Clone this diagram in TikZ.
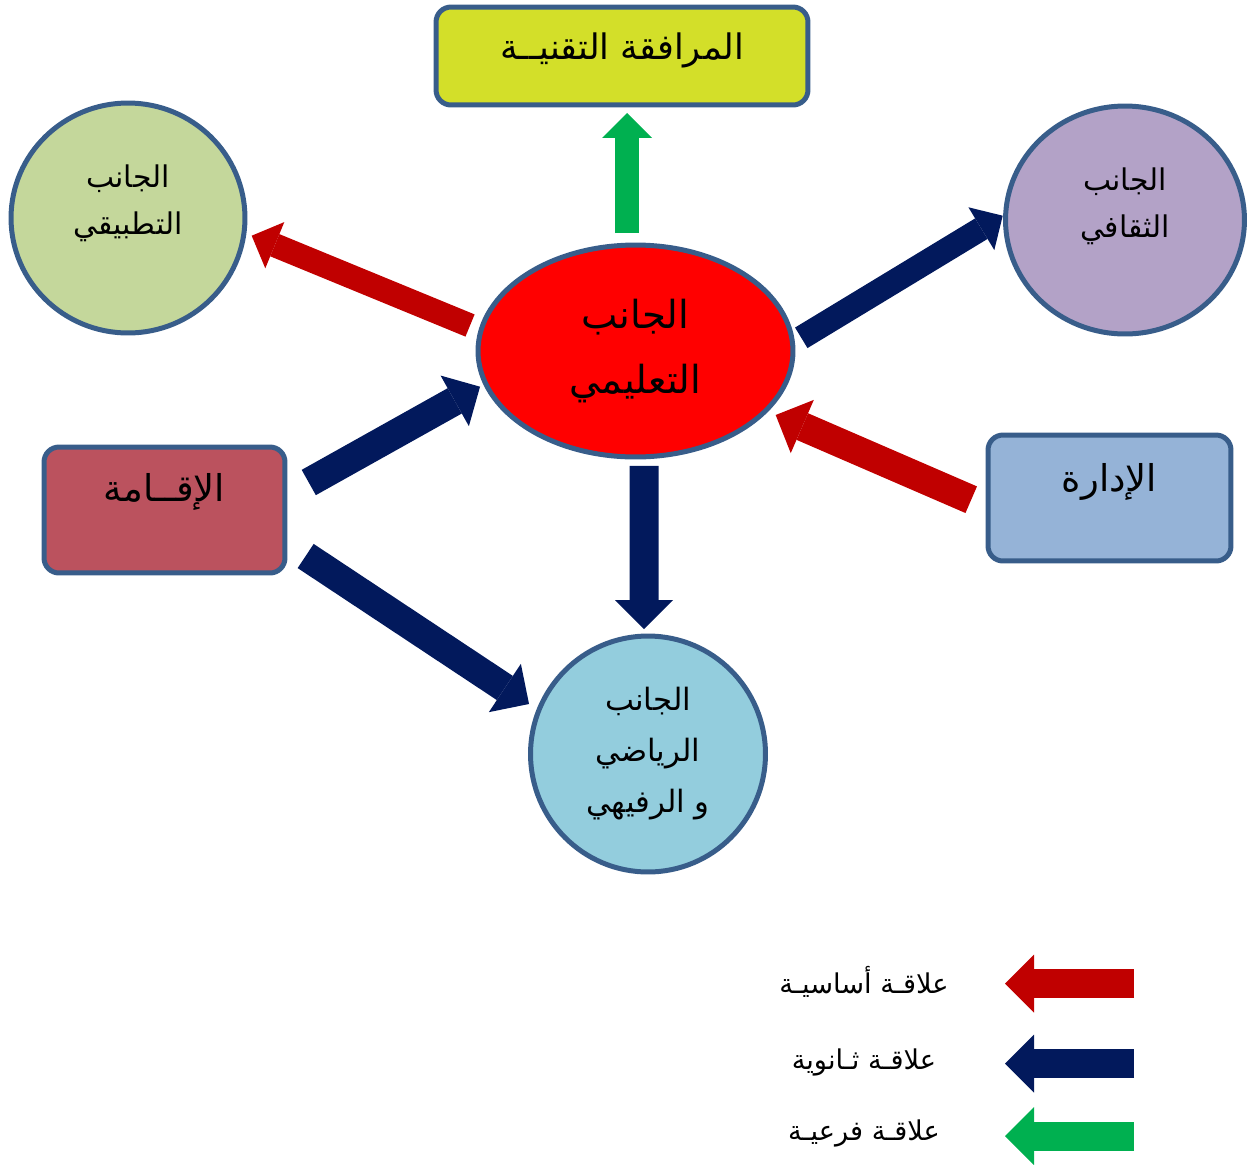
\documentclass[tikz,border=0pt]{standalone}
\usepackage{fontspec}
\usepackage{tikz}
\usetikzlibrary{arrows.meta, shapes.geometric}
\newfontfamily\arabicfont[Script=Arabic]{DejaVu Sans}
\TeXXeTstate=1
\newcommand{\artxt}[1]{{\arabicfont\beginR #1\endR}}
\definecolor{edgeblue}{RGB}{56,93,138}
\definecolor{limefill}{RGB}{211,223,41}
\definecolor{olivefill}{RGB}{196,215,155}
\definecolor{lilacfill}{RGB}{179,162,199}
\definecolor{rosefill}{RGB}{187,82,94}
\definecolor{skyfill}{RGB}{149,179,215}
\definecolor{aquafill}{RGB}{147,205,221}
\definecolor{redarrow}{RGB}{192,0,0}
\definecolor{navyarrow}{RGB}{2,25,92}
\definecolor{greenarrow}{RGB}{0,176,80}

\begin{document}
\begin{tikzpicture}[
    x=0.02cm, y=-0.02cm,
    circ/.style={ellipse, draw=edgeblue, line width=0.1cm, outer sep=0pt,
                 inner sep=0pt, align=center, font=\fontsize{17}{27}\selectfont},
    box/.style={rectangle, draw=edgeblue, line width=0.1cm, outer sep=0pt,
                rounded corners=0.3cm, inner sep=0pt, align=center,
                font=\fontsize{21}{30}\selectfont},
    arr/.style={line width=0.48cm, -{Triangle[length=0.5cm, width=1cm, line width=0pt]}},
    bigarr/.style={line width=0.58cm, -{Triangle[length=0.58cm, width=1.16cm, line width=0pt]}},
    keytext/.style={font=\fontsize{15.5}{20}\selectfont, inner sep=0pt}
]
\useasboundingbox (0,0) rectangle (1255,1164);

\node[box, fill=limefill, minimum width=7.44cm, minimum height=1.96cm, text depth=0.4cm, font=\fontsize{20}{30}\selectfont] (murafaqa) at (622,56) {\artxt{المرافقة التقنيــة}};
\node[circ, fill=olivefill, minimum width=4.68cm, minimum height=4.60cm, text depth=0.74cm] (tatbiqi) at (128,218) {\artxt{الجانب}\\\artxt{التطبيقي}};
\node[circ, fill=lilacfill, minimum width=4.78cm, minimum height=4.56cm, text depth=0.7cm] (thaqafi) at (1125,220) {\artxt{الجانب}\\\artxt{الثقافي}};
\node[circ, fill=red, minimum width=6.30cm, minimum height=4.24cm, font=\fontsize{22}{37}\selectfont] (taalimi) at (635.5,351) {\artxt{الجانب}\\\artxt{التعليمي}};
\node[box, fill=rosefill, minimum width=4.82cm, minimum height=2.52cm, text depth=0.9cm] (iqama) at (164.5,510) {\artxt{الإقــامة}};
\node[box, fill=skyfill, minimum width=4.86cm, minimum height=2.52cm, text depth=0.82cm] (idara) at (1109.5,498) {\artxt{الإدارة}};
\node[circ, fill=aquafill, minimum width=4.70cm, minimum height=4.72cm, font=\fontsize{17.5}{29}\selectfont] (riyadi) at (648,754) {\artxt{الجانب}\\\artxt{الرياضي}\\\artxt{و الرفيهي}};

\draw[arr, color=greenarrow] ([shift={(-8.5,-12)}]taalimi.north) -- ([shift={(5,8)}]murafaqa.south);
\draw[arr, color=redarrow] ([shift={(-8,-25.5)}]taalimi.west) -- ([shift={(6.7,17.7)}]tatbiqi.east);
\draw[arr, color=navyarrow] ([shift={(8.3,-13.2)}]taalimi.east) -- ([shift={(-2.8,-4.3)}]thaqafi.west);
\draw[bigarr, color=navyarrow] ([shift={(23.8,-27.5)}]iqama.east) -- ([shift={(2,35.7)}]taalimi.west);
\draw[bigarr, color=navyarrow] ([shift={(20.7,46)}]iqama.east) -- ([shift={(-1.5,-50)}]riyadi.west);
\draw[bigarr, color=navyarrow] ([shift={(8.5,9)}]taalimi.south) -- ([shift={(-4,-7)}]riyadi.north);
\draw[bigarr, color=redarrow] ([shift={(-16.8,1.7)}]idara.west) -- ([shift={(-17.3,64)}]taalimi.east);

% legend
\node[keytext] (keymain) at (864,982) {\artxt{علاقـة أساسيـة}};
\node[keytext] (keysub) at (864,1062) {\artxt{علاقـة ثـانوية}};
\node[keytext] (keyminor) at (864,1133) {\artxt{علاقـة فرعيـة}};
\coordinate (keymainS) at (1134,983.5);
\coordinate (keymainE) at (1005,983.5);
\coordinate (keysubS) at (1134,1063.5);
\coordinate (keysubE) at (1005,1063.5);
\coordinate (keyminorS) at (1134,1136);
\coordinate (keyminorE) at (1005,1136);
\draw[bigarr, color=redarrow] (keymainS) -- (keymainE);
\draw[bigarr, color=navyarrow] (keysubS) -- (keysubE);
\draw[bigarr, color=greenarrow] (keyminorS) -- (keyminorE);
\end{tikzpicture}
\end{document}
